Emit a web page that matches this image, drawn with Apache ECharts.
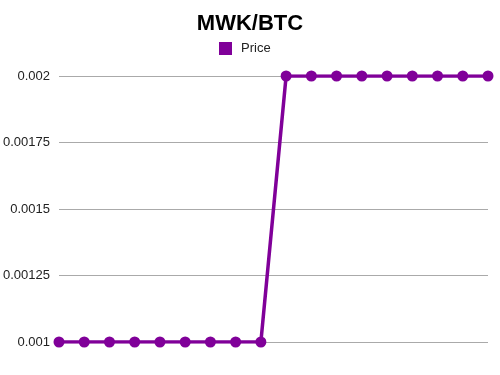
<!DOCTYPE html>
<html><head><meta charset="utf-8">
<script src="https://cdn.jsdelivr.net/npm/echarts@6/dist/echarts.min.js"></script>
<style>html,body{margin:0;padding:0;background:#fff}#c{width:500px;height:375px}</style>
</head><body><div id="c"></div>
<script>
const categories = ['1','2','3','4','5','6','7','8','9','10','11','12','13','14','15','16','17','18'];
const price = [0.001,0.001,0.001,0.001,0.001,0.001,0.001,0.001,0.001,0.002,0.002,0.002,0.002,0.002,0.002,0.002,0.002,0.002];
const yTicks = [0.001, 0.00125, 0.0015, 0.00175, 0.002];
const chart = echarts.init(document.getElementById('c'), null, {renderer:'canvas'});
chart.setOption({
  animation:false,
  title:{text:'MWK/BTC', left:'center', top:8, textStyle:{fontFamily:'Liberation Sans, Arial', fontSize:22, fontWeight:'bold', color:'#000'}},
  legend:{data:['Price'], top:37, left:214, icon:'rect', itemWidth:13, itemHeight:13, itemGap:8,
    textStyle:{fontFamily:'Liberation Sans, Arial', fontSize:13, color:'#222', padding:[0,0,0,4]}},
  grid:{left:59, right:12, top:76, bottom:33},
  xAxis:{type:'category', data:categories, boundaryGap:false, axisLine:{show:false}, axisTick:{show:false}, axisLabel:{show:false}, splitLine:{show:false}},
  yAxis:{type:'value', min:yTicks[0], max:yTicks[yTicks.length-1], interval:0.00025,
    axisLine:{show:false}, axisTick:{show:false},
    axisLabel:{margin:9, fontFamily:'Liberation Sans, Arial', fontSize:13, color:'#222', formatter:v=>String(+v.toFixed(5))},
    splitLine:{lineStyle:{color:'#aaa', width:1}}},
  series:[{name:'Price', type:'line', data:price, color:'#800099', symbol:'circle', symbolSize:11,
    lineStyle:{width:3.5, color:'#800099'}, itemStyle:{color:'#800099'}}]
});
</script></body></html>
